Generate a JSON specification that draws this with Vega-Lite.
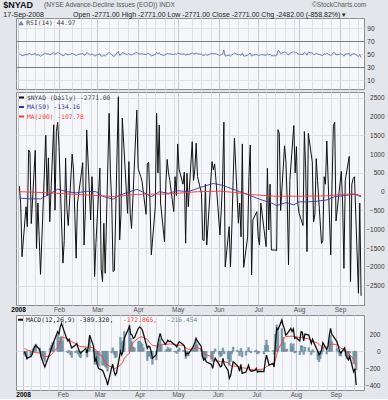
{
  "$schema": "https://vega.github.io/schema/vega-lite/v6.json",
  "background": "#e3e6eb",
  "padding": {"left": 3, "top": 1, "right": 10, "bottom": 1},
  "title": {
    "text": "$NYAD",
    "subtitle": "17-Sep-2008\u00a0\u00a0\u00a0\u00a0\u00a0\u00a0\u00a0\u00a0\u00a0\u00a0\u00a0\u00a0\u00a0\u00a0\u00a0Open -2771.00 High -2771.00 Low -2771.00 Close -2771.00 Chg -2482.00 (-858.82%) \u25be",
    "anchor": "start",
    "dx": -7,
    "offset": -17,
    "font": "Liberation Sans",
    "fontSize": 9,
    "fontWeight": "bold",
    "color": "#111111",
    "subtitleFont": "Liberation Sans",
    "subtitleFontSize": 7,
    "subtitleColor": "#222222",
    "subtitlePadding": 1
  },
  "datasets": {
    "daily": [
      {"date":"2008-01-02","nyad":150,"rsi":50,"macd":-4,"signal":34,"hist":-38},
      {"date":"2008-01-03","nyad":-350,"rsi":49.4,"macd":-30,"signal":28,"hist":-58},
      {"date":"2008-01-04","nyad":-1730,"rsi":47.6,"macd":-80,"signal":15,"hist":-95},
      {"date":"2008-01-07","nyad":-400,"rsi":49.4,"macd":-60,"signal":5,"hist":-65},
      {"date":"2008-01-08","nyad":-930,"rsi":48.8,"macd":-40,"signal":-5,"hist":-35},
      {"date":"2008-01-09","nyad":1110,"rsi":51.2,"macd":20,"signal":-10,"hist":30},
      {"date":"2008-01-10","nyad":1050,"rsi":51.2,"macd":50,"signal":-12,"hist":62},
      {"date":"2008-01-11","nyad":-850,"rsi":48.8,"macd":70,"signal":-15,"hist":85},
      {"date":"2008-01-14","nyad":1100,"rsi":51.2,"macd":20,"signal":-20,"hist":40},
      {"date":"2008-01-15","nyad":-1510,"rsi":48.2,"macd":-60,"signal":-30,"hist":-30},
      {"date":"2008-01-16","nyad":-300,"rsi":49.4,"macd":-100,"signal":-40,"hist":-60},
      {"date":"2008-01-17","nyad":-1200,"rsi":48.2,"macd":-140,"signal":-50,"hist":-90},
      {"date":"2008-01-18","nyad":-2200,"rsi":47,"macd":-180,"signal":-62,"hist":-118},
      {"date":"2008-01-22","nyad":1500,"rsi":51.8,"macd":-20,"signal":-55,"hist":35},
      {"date":"2008-01-23","nyad":-100,"rsi":50,"macd":30,"signal":-40,"hist":70},
      {"date":"2008-01-24","nyad":900,"rsi":51.2,"macd":73,"signal":-25,"hist":98},
      {"date":"2008-01-25","nyad":-800,"rsi":48.8,"macd":110,"signal":0,"hist":110},
      {"date":"2008-01-28","nyad":1780,"rsi":52.4,"macd":227,"signal":40,"hist":187},
      {"date":"2008-01-29","nyad":-490,"rsi":49.4,"macd":200,"signal":80,"hist":120},
      {"date":"2008-01-30","nyad":1600,"rsi":51.8,"macd":280,"signal":115,"hist":165},
      {"date":"2008-01-31","nyad":1845,"rsi":52.4,"macd":323,"signal":150,"hist":173},
      {"date":"2008-02-01","nyad":1200,"rsi":51.8,"macd":280,"signal":160,"hist":120},
      {"date":"2008-02-04","nyad":-1900,"rsi":47.6,"macd":150,"signal":150,"hist":0},
      {"date":"2008-02-05","nyad":-1300,"rsi":48.2,"macd":120,"signal":140,"hist":-20},
      {"date":"2008-02-06","nyad":890,"rsi":51.2,"macd":140,"signal":130,"hist":10},
      {"date":"2008-02-07","nyad":-440,"rsi":49.4,"macd":80,"signal":120,"hist":-40},
      {"date":"2008-02-08","nyad":-900,"rsi":48.8,"macd":40,"signal":110,"hist":-70},
      {"date":"2008-02-11","nyad":1000,"rsi":51.2,"macd":73,"signal":90,"hist":-17},
      {"date":"2008-02-12","nyad":600,"rsi":50.6,"macd":90,"signal":80,"hist":10},
      {"date":"2008-02-13","nyad":-600,"rsi":49.4,"macd":40,"signal":70,"hist":-30},
      {"date":"2008-02-14","nyad":-1770,"rsi":47.6,"macd":0,"signal":60,"hist":-60},
      {"date":"2008-02-15","nyad":-300,"rsi":49.4,"macd":-20,"signal":55,"hist":-75},
      {"date":"2008-02-19","nyad":770,"rsi":51.2,"macd":34,"signal":50,"hist":-16},
      {"date":"2008-02-20","nyad":-1420,"rsi":48.2,"macd":-20,"signal":45,"hist":-65},
      {"date":"2008-02-21","nyad":-500,"rsi":49.4,"macd":60,"signal":48,"hist":12},
      {"date":"2008-02-22","nyad":1640,"rsi":52.4,"macd":188,"signal":50,"hist":138},
      {"date":"2008-02-25","nyad":-750,"rsi":48.8,"macd":60,"signal":40,"hist":20},
      {"date":"2008-02-26","nyad":400,"rsi":50.6,"macd":-120,"signal":30,"hist":-150},
      {"date":"2008-02-27","nyad":-300,"rsi":49.4,"macd":-80,"signal":10,"hist":-90},
      {"date":"2008-02-28","nyad":-2260,"rsi":47,"macd":-160,"signal":-10,"hist":-150},
      {"date":"2008-02-29","nyad":-1375,"rsi":48.2,"macd":-200,"signal":-30,"hist":-170},
      {"date":"2008-03-03","nyad":630,"rsi":50.6,"macd":-220,"signal":-60,"hist":-160},
      {"date":"2008-03-04","nyad":-2060,"rsi":47,"macd":-250,"signal":-90,"hist":-160},
      {"date":"2008-03-05","nyad":-2390,"rsi":47,"macd":-293,"signal":-120,"hist":-173},
      {"date":"2008-03-06","nyad":-840,"rsi":48.8,"macd":-330,"signal":-140,"hist":-190},
      {"date":"2008-03-07","nyad":-2170,"rsi":47,"macd":-390,"signal":-160,"hist":-230},
      {"date":"2008-03-10","nyad":2085,"rsi":53,"macd":-197,"signal":-180,"hist":-17},
      {"date":"2008-03-11","nyad":480,"rsi":50.6,"macd":-150,"signal":-190,"hist":40},
      {"date":"2008-03-12","nyad":-300,"rsi":49.4,"macd":-230,"signal":-195,"hist":-35},
      {"date":"2008-03-13","nyad":-2125,"rsi":47,"macd":-273,"signal":-197,"hist":-76},
      {"date":"2008-03-14","nyad":-2100,"rsi":47,"macd":-250,"signal":-190,"hist":-60},
      {"date":"2008-03-17","nyad":2527,"rsi":54.5,"macd":0,"signal":-160,"hist":160},
      {"date":"2008-03-18","nyad":-1285,"rsi":48.2,"macd":-40,"signal":-140,"hist":100},
      {"date":"2008-03-19","nyad":-600,"rsi":49.4,"macd":0,"signal":-120,"hist":120},
      {"date":"2008-03-20","nyad":1960,"rsi":52.4,"macd":150,"signal":-80,"hist":230},
      {"date":"2008-03-24","nyad":-575,"rsi":49.4,"macd":285,"signal":-20,"hist":305},
      {"date":"2008-03-25","nyad":800,"rsi":51.2,"macd":200,"signal":50,"hist":150},
      {"date":"2008-03-26","nyad":-600,"rsi":49.4,"macd":190,"signal":80,"hist":110},
      {"date":"2008-03-27","nyad":-980,"rsi":48.8,"macd":150,"signal":100,"hist":50},
      {"date":"2008-03-28","nyad":-200,"rsi":50,"macd":160,"signal":120,"hist":40},
      {"date":"2008-03-31","nyad":2170,"rsi":53,"macd":266,"signal":150,"hist":116},
      {"date":"2008-04-01","nyad":620,"rsi":50.6,"macd":280,"signal":160,"hist":120},
      {"date":"2008-04-02","nyad":500,"rsi":50.6,"macd":270,"signal":170,"hist":100},
      {"date":"2008-04-03","nyad":400,"rsi":50.6,"macd":250,"signal":165,"hist":85},
      {"date":"2008-04-04","nyad":265,"rsi":50.6,"macd":200,"signal":160,"hist":40},
      {"date":"2008-04-07","nyad":-600,"rsi":49.4,"macd":34,"signal":140,"hist":-106},
      {"date":"2008-04-08","nyad":750,"rsi":51.2,"macd":60,"signal":120,"hist":-60},
      {"date":"2008-04-09","nyad":780,"rsi":51.2,"macd":50,"signal":100,"hist":-50},
      {"date":"2008-04-10","nyad":-300,"rsi":49.4,"macd":0,"signal":85,"hist":-85},
      {"date":"2008-04-11","nyad":-1680,"rsi":47.6,"macd":-80,"signal":70,"hist":-150},
      {"date":"2008-04-14","nyad":-400,"rsi":49.4,"macd":-40,"signal":60,"hist":-100},
      {"date":"2008-04-15","nyad":2085,"rsi":53,"macd":73,"signal":60,"hist":13},
      {"date":"2008-04-16","nyad":500,"rsi":50.6,"macd":150,"signal":60,"hist":90},
      {"date":"2008-04-17","nyad":1775,"rsi":52.4,"macd":208,"signal":70,"hist":138},
      {"date":"2008-04-18","nyad":-300,"rsi":49.4,"macd":150,"signal":80,"hist":70},
      {"date":"2008-04-21","nyad":-1330,"rsi":48.2,"macd":80,"signal":80,"hist":0},
      {"date":"2008-04-22","nyad":200,"rsi":50,"macd":100,"signal":80,"hist":20},
      {"date":"2008-04-23","nyad":860,"rsi":51.2,"macd":130,"signal":82,"hist":48},
      {"date":"2008-04-24","nyad":500,"rsi":50.6,"macd":112,"signal":85,"hist":27},
      {"date":"2008-04-25","nyad":300,"rsi":50.6,"macd":120,"signal":85,"hist":35},
      {"date":"2008-04-28","nyad":-530,"rsi":49.4,"macd":80,"signal":82,"hist":-2},
      {"date":"2008-04-29","nyad":400,"rsi":50.6,"macd":70,"signal":80,"hist":-10},
      {"date":"2008-04-30","nyad":-100,"rsi":50,"macd":50,"signal":75,"hist":-25},
      {"date":"2008-05-01","nyad":1270,"rsi":51.8,"macd":90,"signal":70,"hist":20},
      {"date":"2008-05-02","nyad":600,"rsi":50.6,"macd":110,"signal":72,"hist":38},
      {"date":"2008-05-05","nyad":200,"rsi":50,"macd":80,"signal":70,"hist":10},
      {"date":"2008-05-06","nyad":520,"rsi":50.6,"macd":60,"signal":60,"hist":0},
      {"date":"2008-05-07","nyad":-1370,"rsi":48.2,"macd":-44,"signal":40,"hist":-84},
      {"date":"2008-05-08","nyad":490,"rsi":50.6,"macd":-20,"signal":30,"hist":-50},
      {"date":"2008-05-09","nyad":-400,"rsi":49.4,"macd":-30,"signal":25,"hist":-55},
      {"date":"2008-05-12","nyad":1330,"rsi":51.8,"macd":34,"signal":25,"hist":9},
      {"date":"2008-05-13","nyad":300,"rsi":50.6,"macd":60,"signal":30,"hist":30},
      {"date":"2008-05-14","nyad":600,"rsi":50.6,"macd":100,"signal":35,"hist":65},
      {"date":"2008-05-15","nyad":1290,"rsi":51.8,"macd":150,"signal":40,"hist":110},
      {"date":"2008-05-16","nyad":400,"rsi":50.6,"macd":120,"signal":40,"hist":80},
      {"date":"2008-05-19","nyad":-40,"rsi":50,"macd":60,"signal":30,"hist":30},
      {"date":"2008-05-20","nyad":-1285,"rsi":48.2,"macd":-50,"signal":10,"hist":-60},
      {"date":"2008-05-21","nyad":-1300,"rsi":48.2,"macd":-100,"signal":-10,"hist":-90},
      {"date":"2008-05-22","nyad":200,"rsi":50,"macd":-80,"signal":-25,"hist":-55},
      {"date":"2008-05-23","nyad":-1420,"rsi":48.2,"macd":-120,"signal":-40,"hist":-80},
      {"date":"2008-05-27","nyad":800,"rsi":51.2,"macd":-150,"signal":-60,"hist":-90},
      {"date":"2008-05-28","nyad":580,"rsi":50.6,"macd":-197,"signal":-80,"hist":-117},
      {"date":"2008-05-29","nyad":740,"rsi":51.2,"macd":-120,"signal":-95,"hist":-25},
      {"date":"2008-05-30","nyad":300,"rsi":50.6,"macd":-80,"signal":-110,"hist":30},
      {"date":"2008-06-02","nyad":-1150,"rsi":48.2,"macd":-150,"signal":-115,"hist":-35},
      {"date":"2008-06-03","nyad":-500,"rsi":49.4,"macd":-180,"signal":-118,"hist":-62},
      {"date":"2008-06-04","nyad":300,"rsi":50,"macd":-170,"signal":-120,"hist":-50},
      {"date":"2008-06-05","nyad":1850,"rsi":56.5,"macd":-80,"signal":-118,"hist":38},
      {"date":"2008-06-06","nyad":-2000,"rsi":47,"macd":-150,"signal":-120,"hist":-30},
      {"date":"2008-06-09","nyad":-930,"rsi":48.8,"macd":-220,"signal":-130,"hist":-90},
      {"date":"2008-06-10","nyad":-2000,"rsi":47,"macd":-312,"signal":-150,"hist":-162},
      {"date":"2008-06-11","nyad":-1000,"rsi":48.8,"macd":-280,"signal":-165,"hist":-115},
      {"date":"2008-06-12","nyad":300,"rsi":50,"macd":-200,"signal":-170,"hist":-30},
      {"date":"2008-06-13","nyad":1420,"rsi":51.8,"macd":-120,"signal":-170,"hist":50},
      {"date":"2008-06-16","nyad":-840,"rsi":48.8,"macd":-160,"signal":-172,"hist":12},
      {"date":"2008-06-17","nyad":-300,"rsi":49.4,"macd":-180,"signal":-175,"hist":-5},
      {"date":"2008-06-18","nyad":-1200,"rsi":48.2,"macd":-230,"signal":-180,"hist":-50},
      {"date":"2008-06-19","nyad":1270,"rsi":51.8,"macd":-150,"signal":-185,"hist":35},
      {"date":"2008-06-20","nyad":-2013,"rsi":47,"macd":-255,"signal":-190,"hist":-65},
      {"date":"2008-06-23","nyad":-1200,"rsi":48.2,"macd":-240,"signal":-195,"hist":-45},
      {"date":"2008-06-24","nyad":400,"rsi":50.6,"macd":-200,"signal":-200,"hist":0},
      {"date":"2008-06-25","nyad":1240,"rsi":51.8,"macd":-160,"signal":-205,"hist":45},
      {"date":"2008-06-26","nyad":-2215,"rsi":47,"macd":-216,"signal":-210,"hist":-6},
      {"date":"2008-06-27","nyad":-750,"rsi":48.8,"macd":-230,"signal":-212,"hist":-18},
      {"date":"2008-06-30","nyad":-530,"rsi":49.4,"macd":-220,"signal":-212,"hist":-8},
      {"date":"2008-07-01","nyad":-1200,"rsi":48.2,"macd":-197,"signal":-210,"hist":13},
      {"date":"2008-07-02","nyad":-1420,"rsi":48.2,"macd":-240,"signal":-210,"hist":-30},
      {"date":"2008-07-03","nyad":-300,"rsi":49.4,"macd":-230,"signal":-210,"hist":-20},
      {"date":"2008-07-07","nyad":-1460,"rsi":48.2,"macd":-235,"signal":-205,"hist":-30},
      {"date":"2008-07-08","nyad":620,"rsi":50.6,"macd":-120,"signal":-190,"hist":70},
      {"date":"2008-07-09","nyad":-1020,"rsi":48.8,"macd":-44,"signal":-175,"hist":131},
      {"date":"2008-07-10","nyad":200,"rsi":50,"macd":-100,"signal":-170,"hist":70},
      {"date":"2008-07-11","nyad":-1550,"rsi":47.6,"macd":-160,"signal":-160,"hist":0},
      {"date":"2008-07-14","nyad":-1550,"rsi":47.6,"macd":-140,"signal":-150,"hist":10},
      {"date":"2008-07-15","nyad":-1570,"rsi":47.6,"macd":-180,"signal":-145,"hist":-35},
      {"date":"2008-07-16","nyad":1650,"rsi":56,"macd":100,"signal":-100,"hist":200},
      {"date":"2008-07-17","nyad":1550,"rsi":55,"macd":266,"signal":-40,"hist":306},
      {"date":"2008-07-18","nyad":-500,"rsi":51,"macd":250,"signal":20,"hist":230},
      {"date":"2008-07-21","nyad":1220,"rsi":53.5,"macd":362,"signal":100,"hist":262},
      {"date":"2008-07-22","nyad":800,"rsi":52.5,"macd":300,"signal":140,"hist":160},
      {"date":"2008-07-23","nyad":-200,"rsi":51,"macd":260,"signal":160,"hist":100},
      {"date":"2008-07-24","nyad":-1950,"rsi":48.5,"macd":188,"signal":170,"hist":18},
      {"date":"2008-07-25","nyad":300,"rsi":51.5,"macd":200,"signal":172,"hist":28},
      {"date":"2008-07-28","nyad":1760,"rsi":54,"macd":266,"signal":175,"hist":91},
      {"date":"2008-07-29","nyad":500,"rsi":52,"macd":230,"signal":175,"hist":55},
      {"date":"2008-07-30","nyad":1200,"rsi":53,"macd":260,"signal":172,"hist":88},
      {"date":"2008-07-31","nyad":-300,"rsi":50.5,"macd":150,"signal":170,"hist":-20},
      {"date":"2008-08-01","nyad":-575,"rsi":50,"macd":160,"signal":168,"hist":-8},
      {"date":"2008-08-04","nyad":-900,"rsi":49.5,"macd":120,"signal":160,"hist":-40},
      {"date":"2008-08-05","nyad":1600,"rsi":53,"macd":227,"signal":160,"hist":67},
      {"date":"2008-08-06","nyad":600,"rsi":51.5,"macd":220,"signal":158,"hist":62},
      {"date":"2008-08-07","nyad":-1595,"rsi":48.5,"macd":120,"signal":155,"hist":-35},
      {"date":"2008-08-08","nyad":1550,"rsi":53,"macd":200,"signal":150,"hist":50},
      {"date":"2008-08-11","nyad":800,"rsi":52,"macd":188,"signal":145,"hist":43},
      {"date":"2008-08-12","nyad":-800,"rsi":49.5,"macd":140,"signal":140,"hist":0},
      {"date":"2008-08-13","nyad":-600,"rsi":49.5,"macd":90,"signal":130,"hist":-40},
      {"date":"2008-08-14","nyad":880,"rsi":51.5,"macd":140,"signal":120,"hist":20},
      {"date":"2008-08-15","nyad":300,"rsi":50.6,"macd":100,"signal":110,"hist":-10},
      {"date":"2008-08-18","nyad":-1375,"rsi":48.2,"macd":0,"signal":95,"hist":-95},
      {"date":"2008-08-19","nyad":-1300,"rsi":48.2,"macd":-40,"signal":80,"hist":-120},
      {"date":"2008-08-20","nyad":400,"rsi":50.6,"macd":-20,"signal":65,"hist":-85},
      {"date":"2008-08-21","nyad":200,"rsi":50,"macd":20,"signal":55,"hist":-35},
      {"date":"2008-08-22","nyad":1350,"rsi":51.8,"macd":100,"signal":50,"hist":50},
      {"date":"2008-08-25","nyad":-1680,"rsi":47.6,"macd":20,"signal":50,"hist":-30},
      {"date":"2008-08-26","nyad":200,"rsi":50,"macd":60,"signal":55,"hist":5},
      {"date":"2008-08-27","nyad":1760,"rsi":52.4,"macd":180,"signal":65,"hist":115},
      {"date":"2008-08-28","nyad":1845,"rsi":52.4,"macd":266,"signal":80,"hist":186},
      {"date":"2008-08-29","nyad":-780,"rsi":48.8,"macd":200,"signal":85,"hist":115},
      {"date":"2008-09-02","nyad":540,"rsi":50.6,"macd":112,"signal":75,"hist":37},
      {"date":"2008-09-03","nyad":-300,"rsi":49.4,"macd":60,"signal":70,"hist":-10},
      {"date":"2008-09-04","nyad":-2040,"rsi":47,"macd":0,"signal":50,"hist":-50},
      {"date":"2008-09-05","nyad":300,"rsi":50,"macd":-20,"signal":35,"hist":-55},
      {"date":"2008-09-08","nyad":940,"rsi":51.2,"macd":40,"signal":25,"hist":15},
      {"date":"2008-09-09","nyad":-2390,"rsi":47,"macd":-44,"signal":10,"hist":-54},
      {"date":"2008-09-10","nyad":200,"rsi":50,"macd":-80,"signal":-5,"hist":-75},
      {"date":"2008-09-11","nyad":350,"rsi":50.6,"macd":-100,"signal":-20,"hist":-80},
      {"date":"2008-09-12","nyad":400,"rsi":50.6,"macd":-60,"signal":-40,"hist":-20},
      {"date":"2008-09-15","nyad":-2700,"rsi":46.5,"macd":-235,"signal":-90,"hist":-145},
      {"date":"2008-09-16","nyad":-300,"rsi":49.4,"macd":-200,"signal":-120,"hist":-80},
      {"date":"2008-09-17","nyad":-2771,"rsi":44.97,"macd":-389.32,"signal":-172.865,"hist":-216.454}
    ],
    "ma": [
      {"date":"2008-01-02","series":"MA(50)","value":-170},
      {"date":"2008-01-10","series":"MA(50)","value":-190},
      {"date":"2008-01-18","series":"MA(50)","value":-190},
      {"date":"2008-01-25","series":"MA(50)","value":-60},
      {"date":"2008-01-31","series":"MA(50)","value":70},
      {"date":"2008-02-07","series":"MA(50)","value":0},
      {"date":"2008-02-14","series":"MA(50)","value":-30},
      {"date":"2008-02-22","series":"MA(50)","value":10},
      {"date":"2008-02-29","series":"MA(50)","value":0},
      {"date":"2008-03-05","series":"MA(50)","value":-120},
      {"date":"2008-03-13","series":"MA(50)","value":-200},
      {"date":"2008-03-18","series":"MA(50)","value":-90},
      {"date":"2008-03-31","series":"MA(50)","value":62},
      {"date":"2008-04-04","series":"MA(50)","value":0},
      {"date":"2008-04-11","series":"MA(50)","value":-133},
      {"date":"2008-04-17","series":"MA(50)","value":0},
      {"date":"2008-04-24","series":"MA(50)","value":-44},
      {"date":"2008-05-01","series":"MA(50)","value":27},
      {"date":"2008-05-09","series":"MA(50)","value":0},
      {"date":"2008-05-14","series":"MA(50)","value":62},
      {"date":"2008-05-19","series":"MA(50)","value":124},
      {"date":"2008-05-28","series":"MA(50)","value":220},
      {"date":"2008-06-04","series":"MA(50)","value":170},
      {"date":"2008-06-10","series":"MA(50)","value":90},
      {"date":"2008-06-17","series":"MA(50)","value":0},
      {"date":"2008-06-24","series":"MA(50)","value":-90},
      {"date":"2008-07-02","series":"MA(50)","value":-200},
      {"date":"2008-07-11","series":"MA(50)","value":-300},
      {"date":"2008-07-15","series":"MA(50)","value":-370},
      {"date":"2008-07-22","series":"MA(50)","value":-290},
      {"date":"2008-07-28","series":"MA(50)","value":-350},
      {"date":"2008-08-01","series":"MA(50)","value":-270},
      {"date":"2008-08-08","series":"MA(50)","value":-270},
      {"date":"2008-08-15","series":"MA(50)","value":-250},
      {"date":"2008-08-22","series":"MA(50)","value":-220},
      {"date":"2008-08-28","series":"MA(50)","value":-130},
      {"date":"2008-09-05","series":"MA(50)","value":-100},
      {"date":"2008-09-12","series":"MA(50)","value":-65},
      {"date":"2008-09-17","series":"MA(50)","value":-134.16},
      {"date":"2008-01-02","series":"MA(200)","value":0},
      {"date":"2008-01-22","series":"MA(200)","value":-25},
      {"date":"2008-02-08","series":"MA(200)","value":-60},
      {"date":"2008-02-29","series":"MA(200)","value":-100},
      {"date":"2008-03-14","series":"MA(200)","value":-130},
      {"date":"2008-03-31","series":"MA(200)","value":-70},
      {"date":"2008-04-25","series":"MA(200)","value":-60},
      {"date":"2008-05-16","series":"MA(200)","value":0},
      {"date":"2008-06-02","series":"MA(200)","value":15},
      {"date":"2008-06-13","series":"MA(200)","value":-20},
      {"date":"2008-06-27","series":"MA(200)","value":-80},
      {"date":"2008-07-14","series":"MA(200)","value":-120},
      {"date":"2008-08-01","series":"MA(200)","value":-120},
      {"date":"2008-08-22","series":"MA(200)","value":-110},
      {"date":"2008-09-02","series":"MA(200)","value":-70},
      {"date":"2008-09-12","series":"MA(200)","value":-60},
      {"date":"2008-09-17","series":"MA(200)","value":-107.78}
    ]
  },
  "spacing": 1,
  "resolve": {
    "scale": {"x": "independent", "y": "independent", "color": "independent"},
    "legend": {"color": "independent"}
  },
  "vconcat": [
    {
      "width": 348,
      "height": 71,
      "title": {
        "text": "(NYSE Advance-Decline Issues (EOD)) INDX\u00a0\u00a0\u00a0\u00a0\u00a0\u00a0\u00a0\u00a0\u00a0\u00a0\u00a0\u00a0\u00a0\u00a0\u00a0\u00a0\u00a0\u00a0\u00a0\u00a0\u00a0\u00a0\u00a0\u00a0\u00a0\u00a0\u00a0\u00a0\u00a0\u00a0\u00a0\u00a0\u00a0\u00a0\u00a0\u00a0\u00a0\u00a0\u00a0\u00a0\u00a0\u00a0\u00a0\u00a0\u00a0\u00a0\u00a0\u00a0\u00a0\u00a0\u00a0\u00a0\u00a0\u00a0\u00a0\u00a0\u00a0\u00a0\u00a0\u00a0\u00a0\u00a0\u00a0\u00a0\u00a0\u00a0\u00a0\u00a0\u00a0\u00a0\u00a0\u00a0\u00a0\u00a0\u00a0\u00a0\u00a9StockCharts.com",
        "anchor": "start",
        "dx": 28,
        "offset": 10,
        "font": "Liberation Sans",
        "fontSize": 6.5,
        "fontWeight": "normal",
        "color": "#555555"
      },
      "data": {"name": "daily"},
      "mark": {"type": "line", "strokeWidth": 0.8, "color": "#5566a8"},
      "encoding": {
        "x": {
          "field": "date", "type": "temporal",
          "scale": {"type": "utc", "domain": [{"year":2007,"month":12,"date":30,"hours":10,"utc":true},{"year":2008,"month":9,"date":19,"hours":5,"utc":true}]},
          "axis": {
            "values": [{"year":2008,"month":1,"date":1,"utc":true},{"year":2008,"month":1,"date":7,"utc":true},{"year":2008,"month":1,"date":14,"utc":true},{"year":2008,"month":1,"date":21,"utc":true},{"year":2008,"month":1,"date":28,"utc":true},{"year":2008,"month":2,"date":1,"utc":true},{"year":2008,"month":2,"date":11,"utc":true},{"year":2008,"month":2,"date":18,"utc":true},{"year":2008,"month":2,"date":25,"utc":true},{"year":2008,"month":3,"date":1,"utc":true},{"year":2008,"month":3,"date":10,"utc":true},{"year":2008,"month":3,"date":17,"utc":true},{"year":2008,"month":3,"date":24,"utc":true},{"year":2008,"month":4,"date":1,"utc":true},{"year":2008,"month":4,"date":7,"utc":true},{"year":2008,"month":4,"date":14,"utc":true},{"year":2008,"month":4,"date":21,"utc":true},{"year":2008,"month":4,"date":28,"utc":true},{"year":2008,"month":5,"date":1,"utc":true},{"year":2008,"month":5,"date":12,"utc":true},{"year":2008,"month":5,"date":19,"utc":true},{"year":2008,"month":5,"date":26,"utc":true},{"year":2008,"month":6,"date":1,"utc":true},{"year":2008,"month":6,"date":9,"utc":true},{"year":2008,"month":6,"date":16,"utc":true},{"year":2008,"month":6,"date":23,"utc":true},{"year":2008,"month":7,"date":1,"utc":true},{"year":2008,"month":7,"date":7,"utc":true},{"year":2008,"month":7,"date":14,"utc":true},{"year":2008,"month":7,"date":21,"utc":true},{"year":2008,"month":7,"date":28,"utc":true},{"year":2008,"month":8,"date":1,"utc":true},{"year":2008,"month":8,"date":11,"utc":true},{"year":2008,"month":8,"date":18,"utc":true},{"year":2008,"month":8,"date":25,"utc":true},{"year":2008,"month":9,"date":1,"utc":true},{"year":2008,"month":9,"date":8,"utc":true},{"year":2008,"month":9,"date":15,"utc":true}],
            "grid": true,
            "gridColor": {"condition": {"test": "utcdate(datum.value) == 1", "value": "#c3c8d1"}, "value": "#dde0e7"},
            "labels": false, "ticks": false, "domain": false, "title": null
          }
        },
        "y": {
          "field": "rsi", "type": "quantitative",
          "scale": {"domain": [-3.4, 105.6], "nice": false, "zero": false},
          "axis": {
            "orient": "right", "values": [10, 30, 50, 70, 90], "format": "d", "labelAlign": "right", "labelPadding": 10,
            "gridColor": {"condition": {"test": "datum.value == 30 || datum.value == 70", "value": "#7a7a7a"}, "value": "#dde0e7"},
            "title": null
          }
        },
        "color": {
          "datum": "RSI(14)",
          "scale": {"domain": ["RSI(14)"], "range": ["#5566a8"]},
          "legend": {
            "symbolType": "triangle-up", "symbolFillColor": "#6f8cc4", "symbolStrokeWidth": 0.5, "symbolSize": 18,
            "labelExpr": "'RSI(14) 44.97'", "labelColor": "#444444", "offset": 2
          }
        }
      }
    },
    {
      "width": 348,
      "height": 213,
      "resolve": {"axis": {"x": "independent", "y": "independent"}},
      "layer": [
        {
          "data": {"name": "daily"},
          "mark": {"type": "line", "strokeWidth": 1},
          "encoding": {
            "x": {
              "field": "date", "type": "temporal",
              "scale": {"type": "utc", "domain": [{"year":2007,"month":12,"date":30,"hours":10,"utc":true},{"year":2008,"month":9,"date":19,"hours":5,"utc":true}]},
              "axis": {
                "orient": "bottom",
                "values": [{"year":2008,"month":1,"date":1,"utc":true},{"year":2008,"month":1,"date":7,"utc":true},{"year":2008,"month":1,"date":14,"utc":true},{"year":2008,"month":1,"date":21,"utc":true},{"year":2008,"month":1,"date":28,"utc":true},{"year":2008,"month":2,"date":1,"utc":true},{"year":2008,"month":2,"date":11,"utc":true},{"year":2008,"month":2,"date":18,"utc":true},{"year":2008,"month":2,"date":25,"utc":true},{"year":2008,"month":3,"date":1,"utc":true},{"year":2008,"month":3,"date":10,"utc":true},{"year":2008,"month":3,"date":17,"utc":true},{"year":2008,"month":3,"date":24,"utc":true},{"year":2008,"month":4,"date":1,"utc":true},{"year":2008,"month":4,"date":7,"utc":true},{"year":2008,"month":4,"date":14,"utc":true},{"year":2008,"month":4,"date":21,"utc":true},{"year":2008,"month":4,"date":28,"utc":true},{"year":2008,"month":5,"date":1,"utc":true},{"year":2008,"month":5,"date":12,"utc":true},{"year":2008,"month":5,"date":19,"utc":true},{"year":2008,"month":5,"date":26,"utc":true},{"year":2008,"month":6,"date":1,"utc":true},{"year":2008,"month":6,"date":9,"utc":true},{"year":2008,"month":6,"date":16,"utc":true},{"year":2008,"month":6,"date":23,"utc":true},{"year":2008,"month":7,"date":1,"utc":true},{"year":2008,"month":7,"date":7,"utc":true},{"year":2008,"month":7,"date":14,"utc":true},{"year":2008,"month":7,"date":21,"utc":true},{"year":2008,"month":7,"date":28,"utc":true},{"year":2008,"month":8,"date":1,"utc":true},{"year":2008,"month":8,"date":11,"utc":true},{"year":2008,"month":8,"date":18,"utc":true},{"year":2008,"month":8,"date":25,"utc":true},{"year":2008,"month":9,"date":1,"utc":true},{"year":2008,"month":9,"date":8,"utc":true},{"year":2008,"month":9,"date":15,"utc":true}],
                "grid": true,
                "gridColor": {"condition": {"test": "utcdate(datum.value) == 1", "value": "#c3c8d1"}, "value": "#dde0e7"},
                "labels": false, "ticks": false, "domain": false, "title": null
              }
            },
            "y": {
              "field": "nyad", "type": "quantitative",
              "scale": {"domain": [-3014, 2652], "nice": false, "zero": false},
              "axis": {
                "orient": "right", "values": [-2500, -1500, -500, 500, 1500, 2500], "format": "d",
                "labelAlign": "right", "labelPadding": 20, "title": null
              }
            },
            "color": {
              "datum": "$NYAD (Daily)",
              "scale": {"domain": ["$NYAD (Daily)", "MA(50)", "MA(200)"], "range": ["#111111", "#3333aa", "#ff3333"]},
              "legend": {
                "labelExpr": "datum.value == 'MA(50)' ? 'MA(50) -134.16' : datum.value == 'MA(200)' ? 'MA(200) -107.78' : '$NYAD (Daily) -2771.00'",
                "labelColor": {"expr": "datum.value == 'MA(50)' ? '#3333aa' : datum.value == 'MA(200)' ? '#ff3333' : '#444444'"},
                "offset": 2
              }
            }
          }
        },
        {
          "data": {"name": "ma"},
          "mark": {"type": "line", "strokeWidth": 0.9},
          "encoding": {
            "x": {
              "field": "date", "type": "temporal",
              "axis": {
                "orient": "bottom",
                "values": [{"year":2008,"month":1,"date":1,"utc":true},{"year":2008,"month":2,"date":1,"utc":true},{"year":2008,"month":3,"date":1,"utc":true},{"year":2008,"month":4,"date":1,"utc":true},{"year":2008,"month":5,"date":1,"utc":true},{"year":2008,"month":6,"date":1,"utc":true},{"year":2008,"month":7,"date":1,"utc":true},{"year":2008,"month":8,"date":1,"utc":true},{"year":2008,"month":9,"date":1,"utc":true}],
                "grid": false,
                "format": "%b",
                "labelExpr": "utcmonth(datum.value) == 0 ? '2008' : datum.label",
                "labelFontWeight": {"condition": {"test": "utcmonth(datum.value) == 0", "value": "bold"}, "value": "normal"},
                "labelColor": {"condition": {"test": "utcmonth(datum.value) == 0", "value": "#000000"}, "value": "#555555"},
                "labelFlush": false, "labelPadding": 1,
                "ticks": false, "domain": false, "title": null
              }
            },
            "y": {
              "field": "value", "type": "quantitative",
              "axis": {
                "orient": "right", "values": [-2000, -1000, 0, 1000, 2000], "format": "d",
                "labelAlign": "right", "labelPadding": 20, "title": null
              }
            },
            "color": {"field": "series", "type": "nominal"}
          }
        }
      ]
    },
    {
      "width": 348,
      "height": 75,
      "resolve": {"axis": {"x": "independent", "y": "independent"}},
      "layer": [
        {
          "data": {"name": "daily"},
          "mark": {"type": "bar", "width": 1.8, "fill": "#7fa3b3", "stroke": "#4a6b7a", "strokeWidth": 0.3},
          "encoding": {
            "x": {
              "field": "date", "type": "temporal",
              "scale": {"type": "utc", "domain": [{"year":2007,"month":12,"date":30,"hours":10,"utc":true},{"year":2008,"month":9,"date":19,"hours":5,"utc":true}]},
              "axis": {
                "orient": "bottom",
                "values": [{"year":2008,"month":1,"date":1,"utc":true},{"year":2008,"month":1,"date":7,"utc":true},{"year":2008,"month":1,"date":14,"utc":true},{"year":2008,"month":1,"date":21,"utc":true},{"year":2008,"month":1,"date":28,"utc":true},{"year":2008,"month":2,"date":1,"utc":true},{"year":2008,"month":2,"date":11,"utc":true},{"year":2008,"month":2,"date":18,"utc":true},{"year":2008,"month":2,"date":25,"utc":true},{"year":2008,"month":3,"date":1,"utc":true},{"year":2008,"month":3,"date":10,"utc":true},{"year":2008,"month":3,"date":17,"utc":true},{"year":2008,"month":3,"date":24,"utc":true},{"year":2008,"month":4,"date":1,"utc":true},{"year":2008,"month":4,"date":7,"utc":true},{"year":2008,"month":4,"date":14,"utc":true},{"year":2008,"month":4,"date":21,"utc":true},{"year":2008,"month":4,"date":28,"utc":true},{"year":2008,"month":5,"date":1,"utc":true},{"year":2008,"month":5,"date":12,"utc":true},{"year":2008,"month":5,"date":19,"utc":true},{"year":2008,"month":5,"date":26,"utc":true},{"year":2008,"month":6,"date":1,"utc":true},{"year":2008,"month":6,"date":9,"utc":true},{"year":2008,"month":6,"date":16,"utc":true},{"year":2008,"month":6,"date":23,"utc":true},{"year":2008,"month":7,"date":1,"utc":true},{"year":2008,"month":7,"date":7,"utc":true},{"year":2008,"month":7,"date":14,"utc":true},{"year":2008,"month":7,"date":21,"utc":true},{"year":2008,"month":7,"date":28,"utc":true},{"year":2008,"month":8,"date":1,"utc":true},{"year":2008,"month":8,"date":11,"utc":true},{"year":2008,"month":8,"date":18,"utc":true},{"year":2008,"month":8,"date":25,"utc":true},{"year":2008,"month":9,"date":1,"utc":true},{"year":2008,"month":9,"date":8,"utc":true},{"year":2008,"month":9,"date":15,"utc":true}],
                "grid": true,
                "gridColor": {"condition": {"test": "utcdate(datum.value) == 1", "value": "#c3c8d1"}, "value": "#dde0e7"},
                "labels": false, "ticks": false, "domain": false, "title": null
              }
            },
            "y": {
              "field": "hist", "type": "quantitative",
              "scale": {"domain": [-447, 420], "nice": false},
              "axis": {
                "orient": "right", "values": [-400, 0], "format": "d",
                "labelAlign": "right", "labelPadding": 16, "title": null
              }
            }
          }
        },
        {
          "data": {"name": "daily"},
          "mark": {"type": "line", "strokeWidth": 0.9},
          "encoding": {
            "x": {
              "field": "date", "type": "temporal",
              "axis": {
                "orient": "bottom",
                "values": [{"year":2008,"month":1,"date":1,"utc":true},{"year":2008,"month":2,"date":1,"utc":true},{"year":2008,"month":3,"date":1,"utc":true},{"year":2008,"month":4,"date":1,"utc":true},{"year":2008,"month":5,"date":1,"utc":true},{"year":2008,"month":6,"date":1,"utc":true},{"year":2008,"month":7,"date":1,"utc":true},{"year":2008,"month":8,"date":1,"utc":true},{"year":2008,"month":9,"date":1,"utc":true}],
                "grid": false,
                "format": "%b",
                "labelExpr": "utcmonth(datum.value) == 0 ? '2008' : datum.label",
                "labelFontWeight": {"condition": {"test": "utcmonth(datum.value) == 0", "value": "bold"}, "value": "normal"},
                "labelColor": {"condition": {"test": "utcmonth(datum.value) == 0", "value": "#000000"}, "value": "#555555"},
                "labelFlush": false, "labelPadding": 1,
                "ticks": false, "domain": false, "title": null
              }
            },
            "y": {
              "field": "signal", "type": "quantitative",
              "axis": {
                "orient": "right", "values": [-200, 200], "format": "d",
                "labelAlign": "right", "labelPadding": 16, "title": null
              }
            },
            "color": {
              "datum": "Signal",
              "scale": {"domain": ["MACD(12,26,9)", "Signal", "Histogram"], "range": ["#111111", "#ff3333", "#5f8f95"]},
              "legend": {
                "direction": "horizontal",
                "columnPadding": -4,
                "labelExpr": "datum.value == 'MACD(12,26,9)' ? 'MACD(12,26,9) -389.320,' : datum.value == 'Signal' ? '-172.865,' : '-216.454'",
                "labelColor": {"expr": "datum.value == 'Signal' ? '#ff3333' : datum.value == 'Histogram' ? '#5f8f95' : '#222222'"},
                "symbolOpacity": {"expr": "datum.value == 'MACD(12,26,9)' ? 1 : 0"},
                "offset": 1
              }
            }
          }
        },
        {
          "data": {"name": "daily"},
          "mark": {"type": "line", "strokeWidth": 1.3},
          "encoding": {
            "x": {"field": "date", "type": "temporal", "axis": null},
            "y": {"field": "macd", "type": "quantitative", "axis": null},
            "color": {"datum": "MACD(12,26,9)"}
          }
        }
      ]
    }
  ],
  "config": {
    "view": {"fill": "#f6f7fa", "stroke": "#8c8c8c", "strokeWidth": 1},
    "axis": {
      "labelFont": "Liberation Sans",
      "labelFontSize": 6.5,
      "labelColor": "#333333",
      "gridColor": "#dde0e7",
      "gridWidth": 1,
      "domain": false,
      "ticks": false,
      "tickSize": 0
    },
    "legend": {
      "orient": "top-left",
      "padding": 0,
      "rowPadding": 0.5,
      "labelFont": "DejaVu Sans Mono",
      "labelFontSize": 6.3,
      "labelColor": "#444444",
      "labelOffset": 2,
      "labelLimit": 0,
      "symbolType": "stroke",
      "symbolSize": 25,
      "symbolStrokeWidth": 2,
      "title": null
    }
  }
}
